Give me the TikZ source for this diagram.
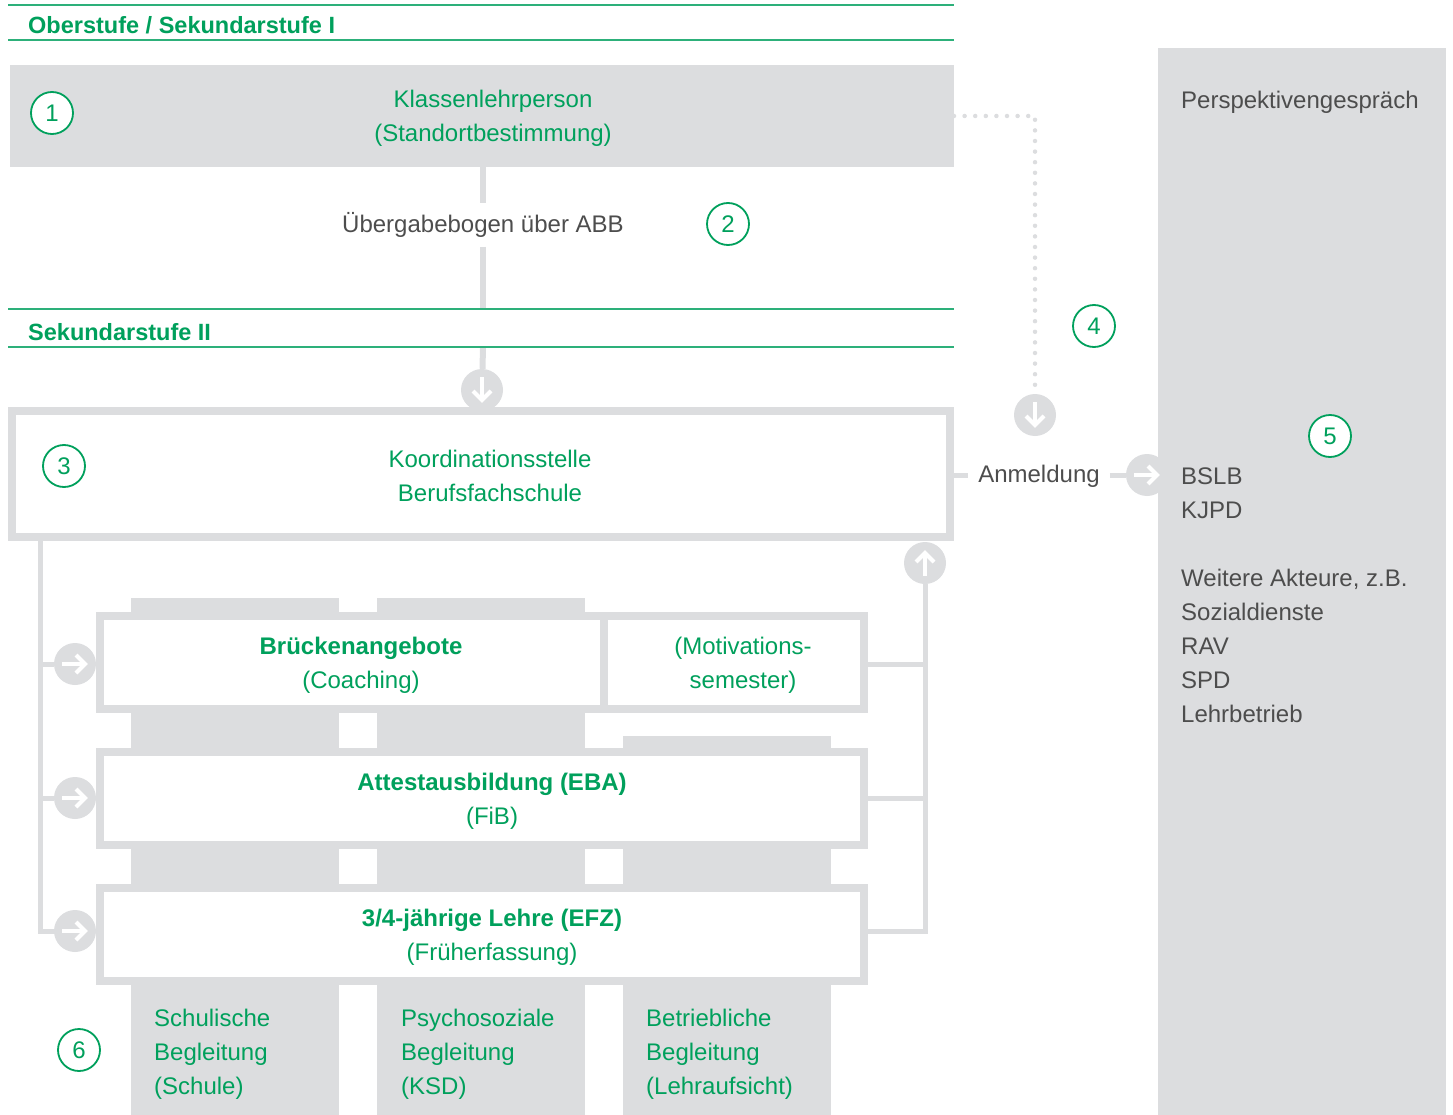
\documentclass[tikz,border=0pt]{standalone}
\usepackage{fontspec}
\setmainfont{Liberation Sans}
\usetikzlibrary{calc,backgrounds}
\definecolor{grn}{HTML}{00A05C}
\definecolor{lgrn}{HTML}{2DB07A}
\definecolor{gr}{HTML}{DCDDDF}
\definecolor{txt}{HTML}{4D4D4D}
\tikzset{
  fs/.style={font=\fontsize{24}{34}\selectfont},
  fsb/.style={font=\fontsize{23.5}{34}\selectfont\bfseries},
  num/.style={circle, draw=grn, line width=1.8pt, fill=white, minimum size=42pt, inner sep=0pt, text=grn, fs},
  arc/.style={circle, fill=gr, minimum size=42pt, inner sep=0pt},
  wbox/.style={draw=gr, line width=8pt, fill=white, inner sep=0pt, outer sep=0pt},
  conn/.style={draw=gr, line width=5pt},
  dots/.style={draw=gr, line width=4.5pt, line cap=round, dash pattern=on 0pt off 10.6pt},
  gtext/.style={text=grn, fs, align=center, inner sep=0pt},
  ttext/.style={text=txt, fs, inner sep=0pt},
  band/.style={draw=lgrn, line width=1.5pt},
  warr/.style={draw=white, line width=4pt, line join=miter, miter limit=10},
}
\newcommand{\ArrRight}[1]{\begin{scope}[shift={(#1.center)}]\draw[warr] (-13,0) -- (10,0);\draw[warr] (1,-9) -- (10,0) -- (1,9);\end{scope}}
\newcommand{\ArrDown}[1]{\begin{scope}[shift={(#1.center)}]\draw[warr] (0,-13) -- (0,10);\draw[warr] (-9,1) -- (0,10) -- (9,1);\end{scope}}
\newcommand{\ArrUp}[1]{\begin{scope}[shift={(#1.center)}]\draw[warr] (0,13) -- (0,-10);\draw[warr] (-9,-1) -- (0,-10) -- (9,-1);\end{scope}}
\begin{document}
\begin{tikzpicture}[x=1pt,y=-1pt]
\useasboundingbox (0,0) rectangle (1453,1115);

% background shapes
\fill[gr] (1158,48) rectangle (1446,1115);
\fill[gr] (131,598) rectangle (339,1115);
\fill[gr] (377,598) rectangle (585,1115);
\fill[gr] (623,736) rectangle (831,1115);

% bands
\draw[band] (8,5) -- (954,5);
\draw[band] (8,40) -- (954,40);
\node[anchor=west, text=grn, fsb, inner sep=0pt] (t1) at (28,25) {Oberstufe / Sekundarstufe I};
\draw[band] (8,309) -- (954,309);
\draw[band] (8,347) -- (954,347);
\node[anchor=west, text=grn, fsb, inner sep=0pt] (t2) at (28,332) {Sekundarstufe II};

% box 1
\node[fill=gr, minimum width=944pt, minimum height=102pt, inner sep=0pt, outer sep=0pt] (box1) at (482,116) {};
\node[gtext] (k1) at (493,118.5) {Klassenlehrperson\\(Standortbestimmung)};
\node[num] (n1) at (52,113) {1};

% Uebergabe
\node[ttext, inner sep=9pt] (ueb) at (483,225) {Übergabebogen über ABB};
\coordinate (s1) at (483,309);
\coordinate (s2) at (483,347);
\node[num] (n2) at (728,224) {2};

% box 3
\node[wbox, minimum width=938pt, minimum height=126pt] (box3) at (481,474) {};
\node[gtext] (k3) at (490,475.5) {Koordinationsstelle\\Berufsfachschule};
\node[num] (n3) at (64,466) {3};

% arrow circles
\node[arc] (a1) at (482,390) {};
\node[arc] (a4) at (1035,415) {};
\node[arc] (a5) at (1147,475) {};
\node[arc] (a6) at (925,563) {};

% rows
\node[wbox, minimum width=504pt, minimum height=93pt] (bru) at (352,662.5) {};
\node[gtext] (bruT) at (361,665) {\textbf{Brückenangebote}\\(Coaching)};
\node[wbox, minimum width=260pt, minimum height=93pt] (mot) at (734,662.5) {};
\node[gtext] (motT) at (743,665) {(Motivations-\\semester)};
\node[wbox, minimum width=764pt, minimum height=93pt] (eba) at (482,798.5) {};
\node[gtext] (ebaT) at (492,801) {\textbf{Attestausbildung (EBA)}\\(FiB)};
\node[wbox, minimum width=764pt, minimum height=93pt] (efz) at (482,934.5) {};
\node[gtext] (efzT) at (492,937) {\textbf{3/4-jährige Lehre (EFZ)}\\(Früherfassung)};

\node[arc] (r1) at (75,664) {};
\node[arc] (r2) at (75,798) {};
\node[arc] (r3) at (75,931) {};

% bottom columns text
\node[gtext, align=left, anchor=west] (c1) at (154,1054) {Schulische\\Begleitung\\(Schule)};
\node[gtext, align=left, anchor=west] (c2) at (401,1054) {Psychosoziale\\Begleitung\\(KSD)};
\node[gtext, align=left, anchor=west] (c3) at (646,1054) {Betriebliche\\Begleitung\\(Lehraufsicht)};
\node[num] (n6) at (79,1050) {6};

% Anmeldung
\node[ttext, inner sep=10pt] (anm) at (1039,476) {Anmeldung};
\node[num] (n4) at (1094,326) {4};

% right panel text
\node[ttext, anchor=west] (pg) at (1181,102) {Perspektivengespräch};
\node[ttext, anchor=west, align=left] (akt) at (1181,595) {BSLB\\KJPD\\[34pt]Weitere Akteure, z.B.\\Sozialdienste\\RAV\\SPD\\Lehrbetrieb};
\node[num] (n5) at (1330,436) {5};

% connectors (behind)
\begin{pgfonlayer}{background}
\draw[conn, line width=6pt] (box1.south -| ueb) -- (ueb.north);
\draw[conn, line width=6pt] (ueb.south) -- (s1);
\draw[conn, line width=6pt] (s2) -- (a1);
\draw[dots] (box1.east) -- (box1.east -| a4) -- (a4.north);
\draw[conn] (box3.east |- a5) -- (anm.west |- a5);
\draw[conn] (anm.east |- a5) -- (a5);
\coordinate (tlx) at (40,0);
\draw[conn, line cap=rect] (box3.south -| tlx) -- (tlx |- r3) -- (r3);
\draw[conn] (tlx |- r1) -- (r1);
\draw[conn] (tlx |- r2) -- (r2);
\coordinate (trx) at (925,0);
\draw[conn] (a6) -- (trx |- r3) -- (efz.east |- r3);
\draw[conn] (mot.east |- r1) -- (trx |- r1);
\draw[conn] (eba.east |- r2) -- (trx |- r2);
\end{pgfonlayer}

% white arrows
\ArrDown{a1}
\ArrDown{a4}
\ArrRight{a5}
\ArrUp{a6}
\ArrRight{r1}
\ArrRight{r2}
\ArrRight{r3}
\end{tikzpicture}
\end{document}
